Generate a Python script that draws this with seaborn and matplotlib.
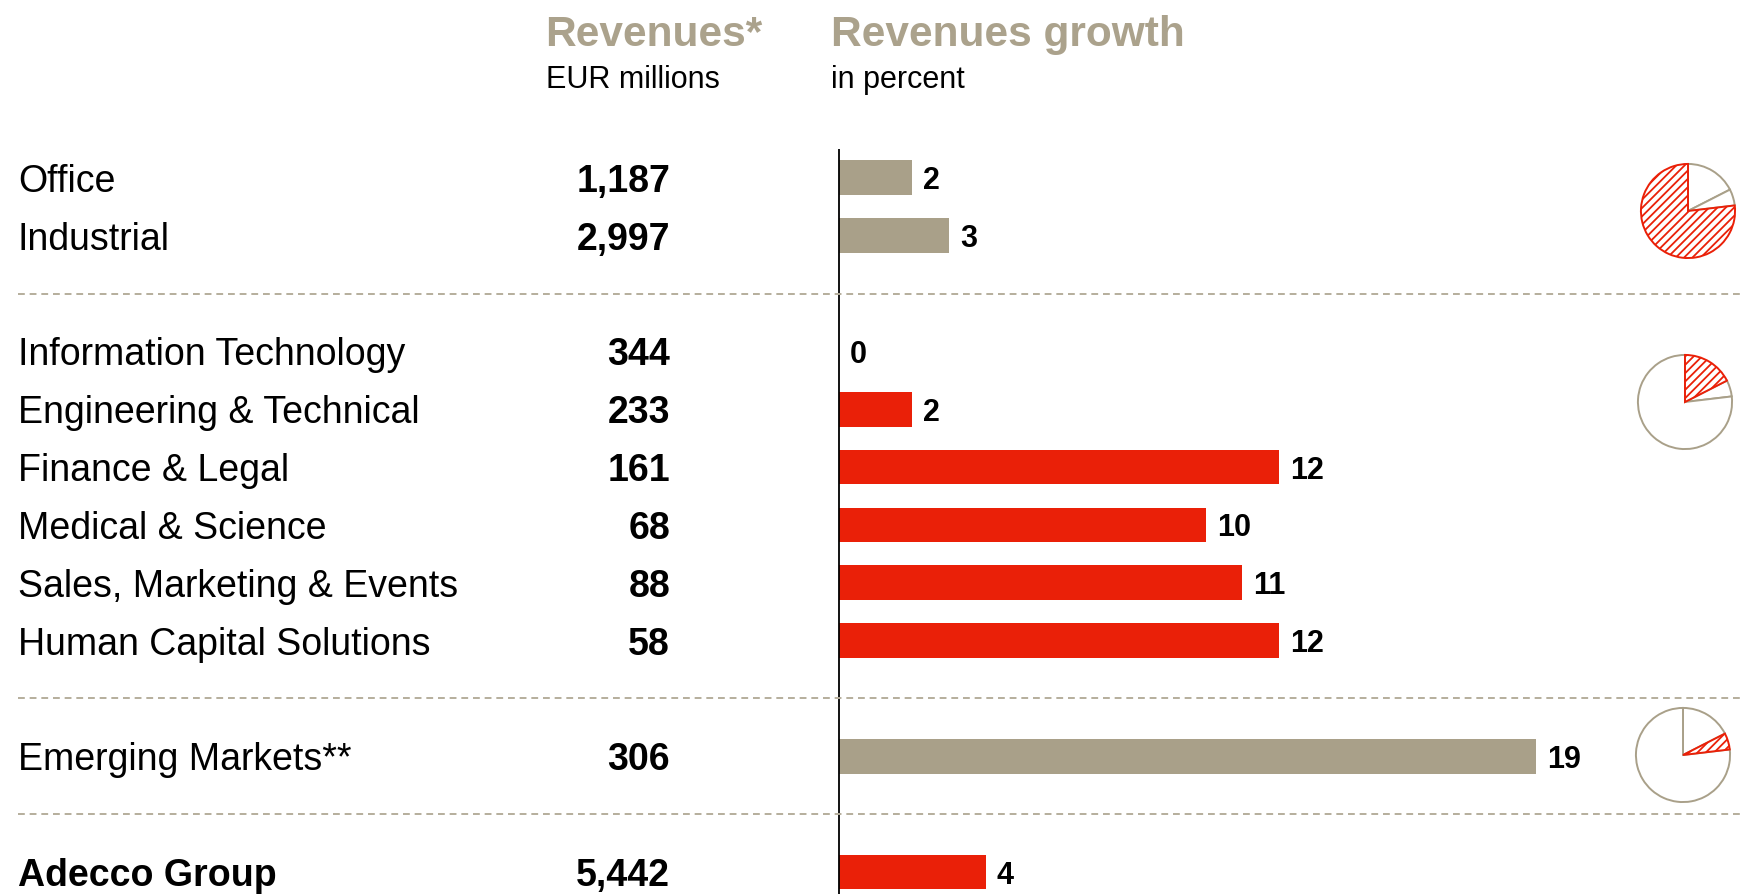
import pandas as pd
import matplotlib.pyplot as plt
import seaborn as sns

# ---------------------------
# Data
# ---------------------------
labels = ["Office", "Industrial", "Information Technology", "Engineering & Technical",
          "Finance & Legal", "Medical & Science", "Sales, Marketing & Events",
          "Human Capital Solutions", "Emerging Markets**", "Adecco Group"]
revenues = [1187, 2997, 344, 233, 161, 68, 88, 58, 306, 5442]
growth = [2, 3, 0, 2, 12, 10, 11, 12, 19, 4]
groups = ["General", "General", "Professional", "Professional", "Professional",
          "Professional", "Professional", "Professional", "Emerging", "Group"]
rows = [0, 1, 3, 4, 5, 6, 7, 8, 10, 12]
separator_rows = [2, 9, 11]

# revenue share pie: Professional, Emerging, General (clockwise from top)
share_order = ["Professional", "Emerging", "General"]
pie_highlight = ["General", "Professional", "Emerging"]
pie_rows = [0.5, 3.8, 9.9]

RED = "#EA2008"
BEIGE = "#A9A089"
HEAD = "#ABA28C"
SEP = "#B5AE9C"

palette = {"General": BEIGE, "Professional": RED, "Emerging": BEIGE, "Group": RED}

df = pd.DataFrame({"label": labels, "revenue": revenues, "growth": growth,
                   "group": groups, "row": rows})

sns.set_theme(style="white")
plt.rcParams["font.family"] = ["Liberation Sans", "DejaVu Sans"]
plt.rcParams["hatch.linewidth"] = 1.3

W, H = 1742, 894
fig = plt.figure(figsize=(W / 100, H / 100), dpi=100)

# bar axes spans the full width; x=0 sits at pixel 839
px_per_pct = 36.67
ax_top_px = 148.9
ax = fig.add_axes([0, 0, 1, (H - ax_top_px) / H])

sns.barplot(data=df, x="growth", y="row", hue="group", palette=palette,
            orient="h", native_scale=True, dodge=False, width=0.6,
            saturation=1, linewidth=0, legend=False, ax=ax)

ax.set_xlim(-839 / px_per_pct, (W - 839) / px_per_pct)
ax.set_ylim(12 + (H - 872) / 57.88, -0.5)
ax.axis("off")

ax.axvline(0, color="black", lw=1.3)
for r in separator_rows:
    ax.axhline(r, xmin=17.8 / W, xmax=1, color=SEP, lw=1.4, ls=(0, (3.5, 2.5)))

trans = ax.get_yaxis_transform()
for _, d in df.iterrows():
    bold = d["label"] == "Adecco Group"
    ax.text(17.8 / W, d["row"], d["label"], transform=trans, fontsize=27,
            va="center_baseline", ha="left", color="black",
            fontweight="bold" if bold else "normal")
    ax.text(670 / W, d["row"], f"{d['revenue']:,}", transform=trans, fontsize=27,
            va="center_baseline", ha="right", color="black", fontweight="bold")
    ax.text(d["growth"] + 0.3, d["row"], f"{d['growth']}", fontsize=22,
            va="center_baseline", ha="left", color="black", fontweight="bold")

# headers
fig.text(545.5 / W, 1 - 46 / H, "Revenues*", fontsize=30.5, fontweight="bold",
         color=HEAD, ha="left", va="baseline")
fig.text(545.5 / W, 1 - 88 / H, "EUR millions", fontsize=22, color="black",
         ha="left", va="baseline")
fig.text(831 / W, 1 - 46 / H, "Revenues growth", fontsize=30.5, fontweight="bold",
         color=HEAD, ha="left", va="baseline")
fig.text(831 / W, 1 - 88 / H, "in percent", fontsize=22, color="black",
         ha="left", va="baseline")

# revenue share pies
share = df.groupby("group")["revenue"].sum()
share_vals = [share[g] for g in share_order]
pie_centers = [(1688, 211), (1685, 402), (1683, 755)]
rad = 48
for (cx, cy), hl in zip(pie_centers, pie_highlight):
    pax = fig.add_axes([(cx - rad) / W, 1 - (cy + rad) / H, 2 * rad / W, 2 * rad / H])
    wedges, _ = pax.pie(share_vals, startangle=90, counterclock=False,
                        colors=["white"] * 3,
                        wedgeprops=dict(edgecolor=BEIGE, linewidth=1.4))
    for w, g in zip(wedges, share_order):
        if g == hl:
            w.set_edgecolor(RED)
            w.set_hatch("////")
            w.set_zorder(3)
    pax.set_xlim(-1.02, 1.02)
    pax.set_ylim(-1.02, 1.02)
    pax.set_aspect("equal")
    pax.axis("off")

plt.savefig("out.png", dpi=100)
plt.close()
